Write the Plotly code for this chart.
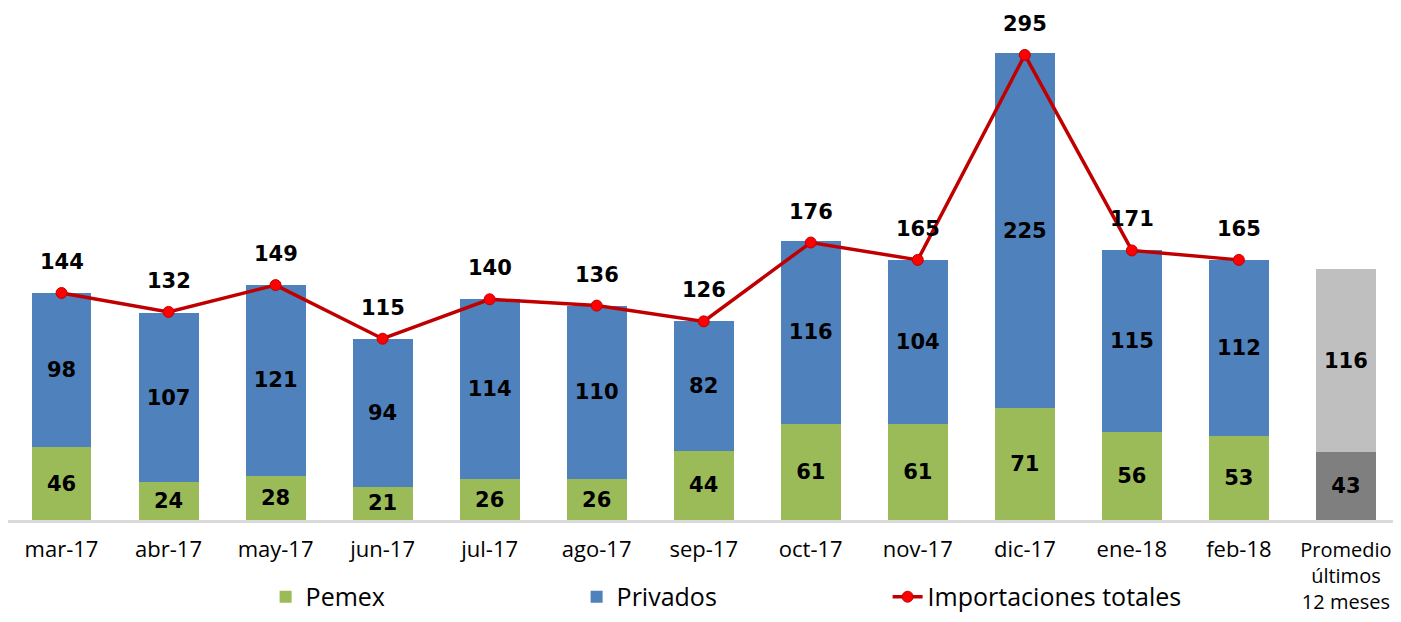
import plotly.graph_objects as go

months = ["mar-17", "abr-17", "may-17", "jun-17", "jul-17", "ago-17", "sep-17",
          "oct-17", "nov-17", "dic-17", "ene-18", "feb-18"]
avg_key = "Promedio últimos 12 meses"
avg_lines = ["Promedio", "últimos", "12 meses"]
pemex = [46, 24, 28, 21, 26, 26, 44, 61, 61, 71, 56, 53]
privados = [98, 107, 121, 94, 114, 110, 82, 116, 104, 225, 115, 112]
totales = [144, 132, 149, 115, 140, 136, 126, 176, 165, 295, 171, 165]
avg_pemex = [43]
avg_privados = [116]

label_font = dict(family="DejaVu Sans", size=21, color="black")

fig = go.Figure()
common = dict(texttemplate="<b>%{y}</b>", textposition="inside", insidetextanchor="middle",
              textangle=0, constraintext="none", insidetextfont=label_font, width=0.56)
fig.add_trace(go.Bar(x=months, y=pemex, name="Pemex", marker=dict(color="#9BBB59", line=dict(width=0)),
                     **common))
fig.add_trace(go.Bar(x=months, y=privados, name="Privados", marker=dict(color="#4F81BD", line=dict(width=0)),
                     **common))
fig.add_trace(go.Bar(x=[avg_key], y=avg_pemex, showlegend=False,
                     marker=dict(color="#7F7F7F", line=dict(width=0)), **common))
fig.add_trace(go.Bar(x=[avg_key], y=avg_privados, showlegend=False,
                     marker=dict(color="#BFBFBF", line=dict(width=0)), **common))
fig.add_trace(go.Scatter(x=months, y=totales, name="Importaciones totales", mode="lines+markers",
                         line=dict(color="#C00000", width=3.5),
                         marker=dict(color="#FF0000", size=11, line=dict(color="#C00000", width=1))))

for m, t in zip(months, totales):
    fig.add_annotation(x=m, y=t, text=f"<b>{t}</b>", showarrow=False, yshift=31,
                       font=label_font)

month_ticktext = [f"<span style='font-size:22px'>{m}</span>" for m in months]
avg_ticktext = "<br>".join(avg_lines)

fig.update_layout(
    barmode="stack",
    width=1385, height=606,
    margin=dict(l=0, r=0, t=2, b=94, autoexpand=False),
    plot_bgcolor="white", paper_bgcolor="white",
    xaxis=dict(categoryorder="array", categoryarray=months + [avg_key],
               tickmode="array", tickvals=months + [avg_key], ticktext=month_ticktext + [avg_ticktext],
               range=[-0.5, 12.44], autorange=False,
               showline=True, linecolor="#D9D9D9", linewidth=3, showgrid=False,
               ticks="", ticklabelstandoff=10, automargin=False,
               tickfont=dict(family="Open Sans", size=20, color="black")),
    yaxis=dict(range=[0, 323.5], visible=False, showgrid=False, automargin=False),
    showlegend=True,
    legend=dict(orientation="h", x=0.186, xanchor="left", y=-0.196, yanchor="bottom",
                entrywidth=266, entrywidthmode="pixels", traceorder="normal",
                font=dict(family="Open Sans", size=25, color="black"),
                bgcolor="rgba(0,0,0,0)"),
)

fig.write_html("out.html")
